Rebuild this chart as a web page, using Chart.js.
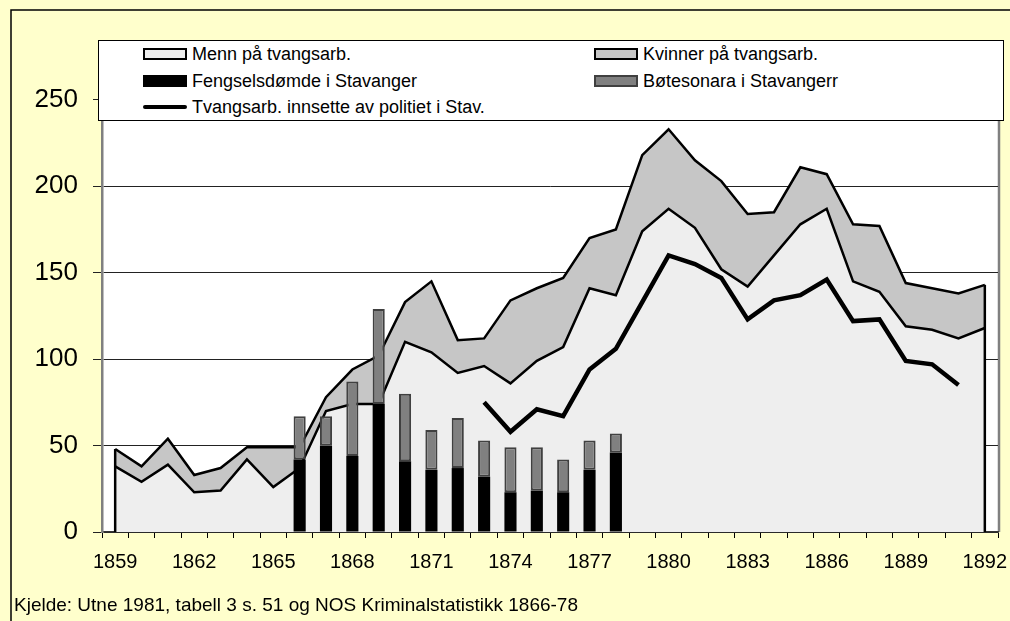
<!DOCTYPE html>
<html>
<head>
<meta charset="utf-8">
<script src="https://cdn.jsdelivr.net/npm/chart.js@4.4.1/dist/chart.umd.min.js"></script>
<style>
  body { margin: 0; background: #ffffcc; font-family: 'Liberation Sans', Arial, sans-serif; }
  #wrap { position: relative; width: 1010px; height: 621px; }
  #legend { position: absolute; left: 98px; top: 40px; width: 904px; height: 79px; background: #fff; border: 1px solid #000; }
  .item { position: absolute; font-size: 18px; line-height: 20px; color: #000; white-space: nowrap; }
  .sw { position: absolute; left: 0; box-sizing: border-box; }
  #footer { position: absolute; left: 14px; top: 594px; font-size: 19px; color: #000; white-space: nowrap; }
</style>
</head>
<body>
<div id="wrap">
  <canvas id="myChart" width="1010" height="621"></canvas>
  <div id="legend"></div>
  <div id="footer">Kjelde: Utne 1981, tabell 3 s. 51 og NOS Kriminalstatistikk 1866-78</div>
</div>
<script>
// årstal 1859-1892
var years = [];
for (var y = 1859; y <= 1892; y++) years.push(String(y));

var menn = [38, 29, 39, 23, 24, 42, 26, 37, 70, 74, 74, 110, 104, 92, 96, 86, 99, 107, 141, 137,
            174, 187, 176, 152, 142, 160, 178, 187, 145, 139, 119, 117, 112, 118];
var kvinner = [10, 9, 15, 10, 13, 7, 23, 12, 8, 20, 28, 23, 41, 19, 16, 48, 42, 40, 29, 38,
               44, 46, 39, 51, 42, 25, 33, 20, 33, 38, 25, 24, 26, 25];
var fengsel = [null, null, null, null, null, null, null, 42, 50, 44, 74, 41, 36, 37, 32, 23, 24, 23, 36, 46,
               null, null, null, null, null, null, null, null, null, null, null, null, null, null];
var boter = [null, null, null, null, null, null, null, 25, 17, 43, 55, 39, 23, 29, 21, 26, 25, 19, 17, 11,
             null, null, null, null, null, null, null, null, null, null, null, null, null, null];
var politi = [null, null, null, null, null, null, null, null, null, null, null, null, null, null,
              75, 58, 71, 67, 94, 106, 133, 160, 155, 147, 123, 134, 137, 146, 122, 123, 99, 97, 85, null];
var yTicks = [0, 50, 100, 150, 200, 250];

var FONT = "'Liberation Sans', Arial, sans-serif";

// bakgrunn, ramme og kantar på flatene
var bgPlugin = {
  id: 'bg',
  beforeDraw: function (chart) {
    var c = chart.ctx, a = chart.chartArea;
    c.save();
    c.fillStyle = '#ffffcc';
    c.fillRect(0, 0, chart.width, chart.height);
    c.fillStyle = '#fff';
    c.fillRect(a.left, a.top, a.right - a.left, a.bottom - a.top);
    c.strokeStyle = '#000';
    c.lineWidth = 1.5;
    c.beginPath();
    c.moveTo(11, chart.height); c.lineTo(11, 10); c.lineTo(chart.width, 10);
    c.stroke();
    c.strokeStyle = '#808080';
    c.lineWidth = 2.5;
    c.beginPath();
    c.moveTo(a.right + 1, a.top); c.lineTo(a.right + 1, a.bottom);
    c.stroke();
    c.restore();
  },
  afterDatasetsDraw: function (chart) {
    var c = chart.ctx;
    var meta = chart.getDatasetMeta(1);
    var y0 = chart.scales.y.getPixelForValue(0);
    c.save();
    c.strokeStyle = '#000';
    c.lineWidth = 2.5;
    [0, meta.data.length - 1].forEach(function (i) {
      var p = meta.data[i];
      c.beginPath();
      c.moveTo(p.x, p.y);
      c.lineTo(p.x, y0);
      c.stroke();
    });
    c.restore();
  }
};

var ctx = document.getElementById('myChart').getContext('2d');
var chart = new Chart(ctx, {
  data: {
    labels: years,
    datasets: [
      { type: 'line', label: 'Menn på tvangsarb.', data: menn, stack: 'area', fill: 'origin', order: 2,
        backgroundColor: '#eeeeee', borderColor: '#000', borderWidth: 2.5, pointRadius: 0, tension: 0 },
      { type: 'line', label: 'Kvinner på tvangsarb.', data: kvinner, stack: 'area', fill: '-1', order: 2,
        backgroundColor: '#c6c6c6', borderColor: '#000', borderWidth: 2.5, pointRadius: 0, tension: 0 },
      { type: 'bar', label: 'Fengselsdømde i Stavanger', data: fengsel, stack: 'bars', order: 1,
        backgroundColor: '#000', borderColor: '#000', borderWidth: 0,
        barPercentage: 0.46, categoryPercentage: 1 },
      { type: 'bar', label: 'Bøtesonara i Stavangerr', data: boter, stack: 'bars', order: 1,
        backgroundColor: '#808080', borderColor: '#404040', borderWidth: 2, borderSkipped: false,
        barPercentage: 0.46, categoryPercentage: 1 },
      { type: 'line', label: 'Tvangsarb. innsette av politiet i Stav.', data: politi, stack: 'police', order: 0,
        fill: false, borderColor: '#000', borderWidth: 4.5, pointRadius: 0, tension: 0, spanGaps: false }
    ]
  },
  options: {
    responsive: false,
    animation: false,
    layout: { padding: { left: 0, right: 12, top: 48, bottom: 0 } },
    plugins: {
      legend: { display: false },
      tooltip: { enabled: false }
    },
    scales: {
      x: {
        stacked: true,
        offset: true,
        grid: { offset: true, drawOnChartArea: false, drawTicks: true, tickLength: 6, color: '#000', lineWidth: 1 },
        border: { color: '#333', width: 1.5 },
        ticks: {
          autoSkip: false, maxRotation: 0, padding: 12, color: '#000',
          font: { family: FONT, size: 20 },
          callback: function (v, i) { return i % 3 === 0 ? this.getLabelForValue(v) : ''; }
        },
        afterFit: function (s) { s.height = 89; s.paddingLeft = 0; s.paddingRight = 0; }
      },
      y: {
        stacked: true,
        min: 0, max: 280,
        afterBuildTicks: function (s) { s.ticks = yTicks.map(function (v) { return { value: v }; }); },
        grid: { color: '#222', lineWidth: 1, tickLength: 9 },
        border: { color: '#808080', width: 2.5 },
        ticks: { padding: 15, color: '#000', font: { family: FONT, size: 26 } },
        afterFit: function (s) { s.width = 102; s.paddingTop = 0; s.paddingBottom = 0; }
      }
    }
  },
  plugins: [bgPlugin]
});

// forklaring i to kolonnar
var legendOrder = [0, 1, 2, 3, 4];
var slots = [[44, 13], [495, 13], [44, 40], [495, 40], [44, 66]];
var leg = document.getElementById('legend');
legendOrder.forEach(function (di, k) {
  var ds = chart.data.datasets[di];
  var item = document.createElement('div');
  item.className = 'item';
  item.style.left = slots[k][0] + 'px';
  item.style.top = (slots[k][1] - 10) + 'px';
  item.style.paddingLeft = '49px';
  var sw = document.createElement('span');
  sw.className = 'sw';
  if (ds.type === 'line' && ds.fill === false) {
    sw.style.cssText += 'width:44px;height:4px;top:8px;background:#000;border-radius:2px;';
  } else {
    sw.style.cssText += 'width:44px;height:12px;top:4px;background:' + ds.backgroundColor +
      ';border:' + (ds.type === 'line' ? '2px solid #000' : '2px solid ' + ds.borderColor) + ';';
  }
  item.appendChild(sw);
  item.appendChild(document.createTextNode(ds.label));
  leg.appendChild(item);
});
</script>
</body>
</html>
